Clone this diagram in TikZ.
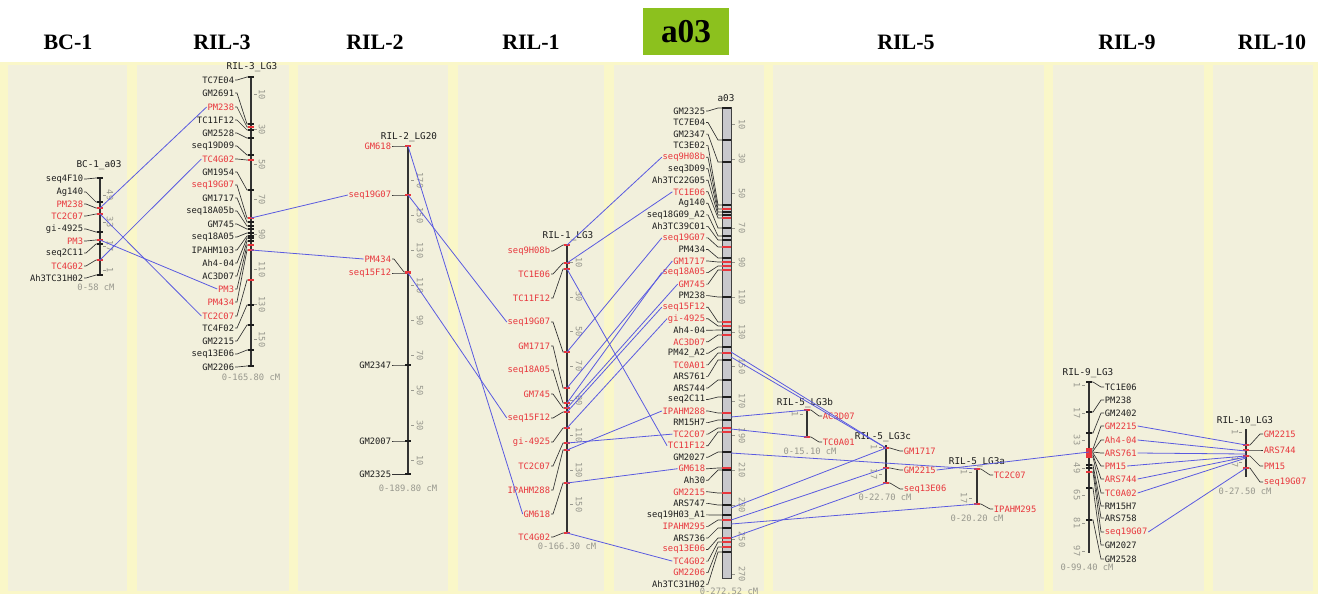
\documentclass[tikz,border=0pt]{standalone}
\usepackage{fontspec}
\setmainfont{Liberation Serif}
\newfontfamily\mapfont{DejaVu Sans Mono}
\usetikzlibrary{calc}
\definecolor{mk}{HTML}{1E1E1E}
\definecolor{mr}{HTML}{E8363C}
\definecolor{conncol}{HTML}{5A5AE0}
\definecolor{scl}{HTML}{98988E}
\definecolor{panel}{HTML}{F2F0DC}
\definecolor{strip}{HTML}{FAF7C8}
\definecolor{hdrgreen}{HTML}{8CC11E}
\definecolor{barfill}{HTML}{C8C8CC}
% #1 prefix, #2 label x (east), #3 bar x, #4 list, #5/#6 tick extents
\newcommand\LeftMap[6]{%
  \foreach \id/\txt/\ly/\ty/\cc in {#4}{
    \node[lab,text=\cc,anchor=east] (#1-\id) at (#2,\ly) {\txt};
    \coordinate (#1-\id-t) at (#3,\ty);
    \draw[leader] (#1-\id.east) -- ++(2,0) -- ($(#1-\id-t)+(-4,0)$) -- (#1-\id-t);
    \draw[draw=\cc, line width=0.8pt] ($(#1-\id-t)+(#5,0)$) -- ($(#1-\id-t)+(#6,0)$);
  }}
% #1 prefix, #2 label x (west), #3 bar x, #4 list
\newcommand\RightMap[4]{%
  \foreach \id/\txt/\ly/\ty/\cc in {#4}{
    \node[lab,text=\cc,anchor=west] (#1-\id) at (#2,\ly) {\txt};
    \coordinate (#1-\id-t) at (#3,\ty);
    \draw[leader] (#1-\id-t) -- ++(4,0) -- ($(#1-\id.west)+(-3,0)$) -- (#1-\id.west);
    \draw[draw=\cc, line width=0.8pt] ($(#1-\id-t)+(-3,0)$) -- ($(#1-\id-t)+(3,0)$);
  }}
\begin{document}
\begin{tikzpicture}[x=0.75pt,y=-0.75pt,
  lab/.style={font=\mapfont\fontsize{6.6pt}{7pt}\selectfont, inner sep=0.5pt},
  ttl/.style={font=\mapfont\fontsize{7pt}{8pt}\selectfont, inner sep=0.5pt, text=mk},
  rng/.style={font=\mapfont\fontsize{6.6pt}{7pt}\selectfont, inner sep=0.5pt, text=scl},
  scn/.style={font=\mapfont\fontsize{6.5pt}{7pt}\selectfont, inner sep=0.3pt, text=scl, rotate=-90},
  hdr/.style={font=\bfseries\fontsize{16.5pt}{18pt}\selectfont, inner sep=0pt},
  leader/.style={draw=black!80, line width=0.5pt},
  conn/.style={draw=conncol, line width=0.6pt},
  bar/.style={draw=black!80, line width=1.3pt},
  sctk/.style={draw=scl, line width=0.45pt}]
\useasboundingbox (0,0) rectangle (1318,594);
% background
\fill[white] (0,0) rectangle (1318,594);
\fill[strip] (0,62) rectangle (1318,594);
\foreach \a/\b in {8/127,137/289,298/448,458/604,614/764,773/1044,1053/1204,1213/1313}
  \fill[panel] (\a,65) rectangle (\b,591);
% headers
\node[hdr] (hBC1) at (68,42) {BC-1};
\node[hdr] (hRIL3) at (222,42) {RIL-3};
\node[hdr] (hRIL2) at (375,42) {RIL-2};
\node[hdr] (hRIL1) at (531,42) {RIL-1};
\node[fill=hdrgreen, minimum width=64.5pt, minimum height=35.25pt, inner sep=0pt,
      font=\bfseries\fontsize{25pt}{26pt}\selectfont] (ha03) at (686,31.5) {a03};
\node[hdr] (hRIL5) at (906,42) {RIL-5};
\node[hdr] (hRIL9) at (1127,42) {RIL-9};
\node[hdr] (hRIL10) at (1272,42) {RIL-10};

% ===== BC-1 =====
\draw[bar] (100,178) -- (100,276);
\node[ttl] (b-title) at (99,165) {BC-1\_a03};
\node[rng] (b-range) at (96,287) {0-58 cM};
\foreach \v/\yy in {49/195,33/222,17/246,1/270}{
  \node[scn] (b-s\v) at (110,\yy) {\v};
  \draw[sctk] (103,\yy) -- (106,\yy);}
\LeftMap{b}{84}{100}{seq4F10/seq4F10/179/178/mk, Ag140/Ag140/192/202/mk, PM238/PM238/204/208/mr,
  TC2C07/TC2C07/216/214/mr, gi4925/gi-4925/229/232/mk, PM3/PM3/241/240/mr,
  seq2C11/seq2C11/253/244/mk, TC4G02/TC4G02/266/260/mr, Ah3TC31H02/Ah3TC31H02/278/275/mk}{-3}{3}

% ===== RIL-3 =====
\draw[bar] (251,77) -- (251,367);
\node[ttl] (r3-title) at (252,67) {RIL-3\_LG3};
\node[rng] (r3-range) at (251,377) {0-165.80 cM};
\foreach \v in {10,30,...,150}{
  \node[scn] (r3-s\v) at (262,{77+1.75*\v}) {\v};
  \draw[sctk] (254,{77+1.75*\v}) -- (257,{77+1.75*\v});}
\LeftMap{r3}{235}{251}{TC7E04/TC7E04/80/77/mk, GM2691/GM2691/93/124/mk, PM238/PM238/107/127/mr,
  TC11F12/TC11F12/120/130/mk, GM2528/GM2528/133/138/mk, seq19D09/seq19D09/146/155/mk,
  TC4G02/TC4G02/159/160/mr, GM1954/GM1954/172/190/mk, seq19G07/seq19G07/185/218/mr,
  GM1717/GM1717/198/222/mk, seq18A05b/seq18A05b/211/226/mk, GM745/GM745/224/229/mk,
  seq18A05/seq18A05/237/233/mk, IPAHM103/IPAHM103/250/236/mk, Ah404/Ah4-04/263/238/mk,
  AC3D07/AC3D07/276/241/mk, PM3/PM3/289/245/mr, PM434/PM434/302/250/mr,
  TC2C07/TC2C07/316/280/mr, TC4F02/TC4F02/328/305/mk, GM2215/GM2215/341/325/mk,
  seq13E06/seq13E06/354/350/mk, GM2206/GM2206/367/366/mk}{-3}{3}

% ===== RIL-2 =====
\draw[bar] (408,146) -- (408,475);
\node[ttl] (r2-title) at (409,137) {RIL-2\_LG20};
\node[rng] (r2-range) at (408,488) {0-189.80 cM};
\foreach \v in {10,30,...,170}{
  \node[scn] (r2-s\v) at (420,{478-1.75*\v}) {\v};
  \draw[sctk] (411,{478-1.75*\v}) -- (414,{478-1.75*\v});}
\LeftMap{r2}{392}{408}{GM618/GM618/146/146/mr, seq19G07/seq19G07/195/195/mr,
  PM434/PM434/259/272/mr, seq15F12/seq15F12/273/273/mr, GM2347/GM2347/365/365/mk,
  GM2007/GM2007/441/441/mk, GM2325/GM2325/474/474/mk}{-3}{3}

% ===== RIL-1 =====
\draw[bar] (567,245) -- (567,533);
\node[ttl] (r1-title) at (568,236) {RIL-1\_LG3};
\node[rng] (r1-range) at (567,546) {0-166.30 cM};
\foreach \v in {10,30,...,150}{
  \node[scn] (r1-s\v) at (579,{245+1.73*\v}) {\v};
  \draw[sctk] (570,{245+1.73*\v}) -- (573,{245+1.73*\v});}
\LeftMap{r1}{551}{567}{seq9H08b/seq9H08b/251/245/mr, TC1E06/TC1E06/274/263/mr,
  TC11F12/TC11F12/298/269/mr, seq19G07/seq19G07/322/352/mr, GM1717/GM1717/346/388/mr,
  seq18A05/seq18A05/370/403/mr, GM745/GM745/394/408/mr, seq15F12/seq15F12/418/412/mr,
  gi4925/gi-4925/442/428/mr, TC2C07/TC2C07/466/443/mr, IPAHM288/IPAHM288/490/450/mr,
  GM618/GM618/514/483/mr, TC4G02/TC4G02/537/533/mr}{-3}{3}

% ===== a03 =====
\draw[draw=black!75, fill=barfill, line width=0.7pt] (722,107) rectangle (731,578);
\node[ttl] (a-title) at (726,98) {a03};
\node[rng] (a-range) at (729,591) {0-272.52 cM};
\foreach \v in {10,30,...,270}{
  \node[scn] (a-s\v) at (742,{107+1.73*\v}) {\v};
  \draw[sctk] (732,{107+1.73*\v}) -- (735,{107+1.73*\v});}
\LeftMap{a}{706}{722}{GM2325/GM2325/111.0/108/mk, TC7E04/TC7E04/122.5/140/mk,
  GM2347/GM2347/134.1/162/mk, TC3E02/TC3E02/145.6/205/mk, seq9H08b/seq9H08b/157.2/209/mr,
  seq3D09/seq3D09/168.7/212/mk, Ah3TC22G05/Ah3TC22G05/180.2/215/mk, TC1E06/TC1E06/191.8/218/mr,
  Ag140/Ag140/203.3/228/mk, seq18G09A2/seq18G09\_A2/214.9/236/mk, Ah3TC39C01/Ah3TC39C01/226.4/240/mk,
  seq19G07/seq19G07/237.9/247/mr, PM434/PM434/249.5/258/mk, GM1717/GM1717/261.0/262/mr,
  seq18A05/seq18A05/272.6/266/mr, GM745/GM745/284.1/270/mr, PM238/PM238/295.6/297/mk,
  seq15F12/seq15F12/307.2/322/mr, gi4925/gi-4925/318.7/326/mr, Ah404/Ah4-04/330.3/330/mk,
  AC3D07/AC3D07/341.8/335/mr, PM42A2/PM42\_A2/353.3/347/mk, TC0A01/TC0A01/364.9/353/mr,
  ARS761/ARS761/376.4/360/mk, ARS744/ARS744/388.0/380/mk, seq2C11/seq2C11/399.5/397/mk,
  IPAHM288/IPAHM288/411.0/413/mr, RM15H7/RM15H7/422.6/420/mk, TC2C07/TC2C07/434.1/428/mr,
  TC11F12/TC11F12/445.7/432/mr, GM2027/GM2027/457.2/452/mk, GM618/GM618/468.7/468/mr,
  Ah30/Ah30/480.3/470/mk, GM2215/GM2215/491.8/493/mr, ARS747/ARS747/503.4/505/mk,
  seq19H03A1/seq19H03\_A1/514.9/515/mk, IPAHM295/IPAHM295/526.4/520/mr, ARS736/ARS736/538.0/528/mk,
  seq13E06/seq13E06/549.5/538/mr, TC4G02/TC4G02/561.1/542/mr, GM2206/GM2206/572.6/547/mr,
  Ah3TC31H02/Ah3TC31H02/584.2/552/mk}{0}{9}

% ===== RIL-5 =====
\draw[bar] (807,410) -- (807,437);
\node[ttl] (r5b-title) at (805,403) {RIL-5\_LG3b};
\node[rng] (r5b-range) at (810,451) {0-15.10 cM};
\node[scn] (r5b-s1) at (795,414) {1};
\draw[sctk] (800,414) -- (803,414);
\RightMap{r5b}{822}{807}{AC3D07/AC3D07/416/410/mr, TC0A01/TC0A01/442/437/mr}

\draw[bar] (886,445) -- (886,484);
\node[ttl] (r5c-title) at (883,437) {RIL-5\_LG3c};
\node[rng] (r5c-range) at (885,497) {0-22.70 cM};
\foreach \v/\yy in {1/447,17/474}{
  \node[scn] (r5c-s\v) at (874,\yy) {\v};
  \draw[sctk] (879,\yy) -- (882,\yy);}
\RightMap{r5c}{903}{886}{GM1717/GM1717/451/448/mr, GM2215/GM2215/470/468/mr, seq13E06/seq13E06/489/483/mr}

\draw[bar] (977,469) -- (977,504);
\node[ttl] (r5a-title) at (977,462) {RIL-5\_LG3a};
\node[rng] (r5a-range) at (977,518) {0-20.20 cM};
\foreach \v/\yy in {1/472,17/498}{
  \node[scn] (r5a-s\v) at (964,\yy) {\v};
  \draw[sctk] (969,\yy) -- (972,\yy);}
\RightMap{r5a}{993}{977}{TC2C07/TC2C07/475/469/mr, IPAHM295/IPAHM295/509/504/mr}

% ===== RIL-9 =====
\draw[bar] (1089,382) -- (1089,553);
\node[ttl] (r9-title) at (1088,373) {RIL-9\_LG3};
\node[rng] (r9-range) at (1087,567) {0-99.40 cM};
\foreach \v/\yy in {1/385,17/413,33/440,49/468,65/495,81/523,97/551}{
  \node[scn] (r9-s\v) at (1077,\yy) {\v};
  \draw[sctk] (1082,\yy) -- (1085,\yy);}
\RightMap{r9}{1104}{1089}{TC1E06/TC1E06/387/382/mk, PM238/PM238/400/412/mk, GM2402/GM2402/413/433/mk,
  GM2215/GM2215/426/449/mr, Ah404/Ah4-04/440/451/mr, ARS761/ARS761/453/452/mr,
  PM15/PM15/466/453/mr, ARS744/ARS744/479/455/mr, TC0A02/TC0A02/493/457/mr,
  RM15H7/RM15H7/506/465/mk, ARS758/ARS758/518/468/mk, seq19G07/seq19G07/532/472/mr,
  GM2027/GM2027/545/488/mk, GM2528/GM2528/559/520/mk}

% ===== RIL-10 =====
\draw[bar] (1246,429) -- (1246,477);
\node[ttl] (r10-title) at (1245,421) {RIL-10\_LG3};
\node[rng] (r10-range) at (1245,491) {0-27.50 cM};
\foreach \v/\yy in {1/432,17/462}{
  \node[scn] (r10-s\v) at (1235,\yy) {\v};
  \draw[sctk] (1239,\yy) -- (1242,\yy);}
\RightMap{r10}{1263}{1246}{GM2215/GM2215/434/445/mr, ARS744/ARS744/450/450/mr,
  PM15/PM15/466/456/mr, seq19G07/seq19G07/482/468/mr}
\coordinate (r10-in2) at (1246,451);
\coordinate (r10-in3) at (1246,454);
\coordinate (r10-in5) at (1246,457);
\coordinate (r10-in6) at (1246,458);

% ===== connectors =====
% BC-1 -> RIL-3
\draw[conn] (b-PM238-t) -- (r3-PM238.west);
\draw[conn] (b-TC2C07-t) -- (r3-TC2C07.west);
\draw[conn] (b-PM3-t) -- (r3-PM3.west);
\draw[conn] (b-TC4G02-t) -- (r3-TC4G02.west);
% RIL-3 -> RIL-2
\draw[conn] (r3-seq19G07-t) -- (r2-seq19G07.west);
\draw[conn] (r3-PM434-t) -- (r2-PM434.west);
% RIL-2 -> RIL-1
\draw[conn] (r2-GM618-t) -- (r1-GM618.west);
\draw[conn] (r2-seq19G07-t) -- (r1-seq19G07.west);
\draw[conn] (r2-seq15F12-t) -- (r1-seq15F12.west);
% RIL-1 -> a03
\foreach \m in {seq9H08b,TC1E06,TC11F12,seq19G07,GM1717,seq18A05,GM745,seq15F12,gi4925,TC2C07,IPAHM288,GM618,TC4G02}
  \draw[conn] (r1-\m-t) -- (a-\m.west);
% a03 -> RIL-5
\coordinate (a-o1) at (731,352);
\coordinate (a-o2) at (731,357);
\coordinate (a-o3) at (731,417);
\coordinate (a-o4) at (731,429);
\coordinate (a-o5) at (731,453);
\coordinate (a-o6) at (731,508);
\coordinate (a-o7) at (731,520);
\coordinate (a-o8) at (731,538);
\coordinate (a-o9) at (731,524);
\draw[conn] (a-o1) -- (r5c-GM1717-t);
\draw[conn] (a-o2) -- (r5c-GM1717-t);
\draw[conn] (a-o3) -- (r5b-AC3D07-t);
\draw[conn] (a-o4) -- (r5b-TC0A01-t);
\draw[conn] (a-o5) -- (r5a-TC2C07-t);
\draw[conn] (a-o6) -- (r5c-GM1717-t);
\draw[conn] (a-o7) -- (r5c-GM2215-t);
\draw[conn] (a-o8) -- (r5c-seq13E06-t);
\draw[conn] (a-o9) -- (r5a-IPAHM295-t);
% RIL-5 -> RIL-9
\draw[conn] (r5c-GM2215.east) -- (r9-ARS761-t);
% RIL-9 -> RIL-10
\draw[conn] (r9-GM2215.east) -- (r10-GM2215-t);
\draw[conn] (r9-Ah404.east) -- (r10-in2);
\draw[conn] (r9-ARS761.east) -- (r10-in3);
\draw[conn] (r9-PM15.east) -- (r10-PM15-t);
\draw[conn] (r9-ARS744.east) -- (r10-in5);
\draw[conn] (r9-TC0A02.east) -- (r10-in6);
\draw[conn] (r9-seq19G07.east) -- (r10-seq19G07-t);
\end{tikzpicture}
\end{document}
